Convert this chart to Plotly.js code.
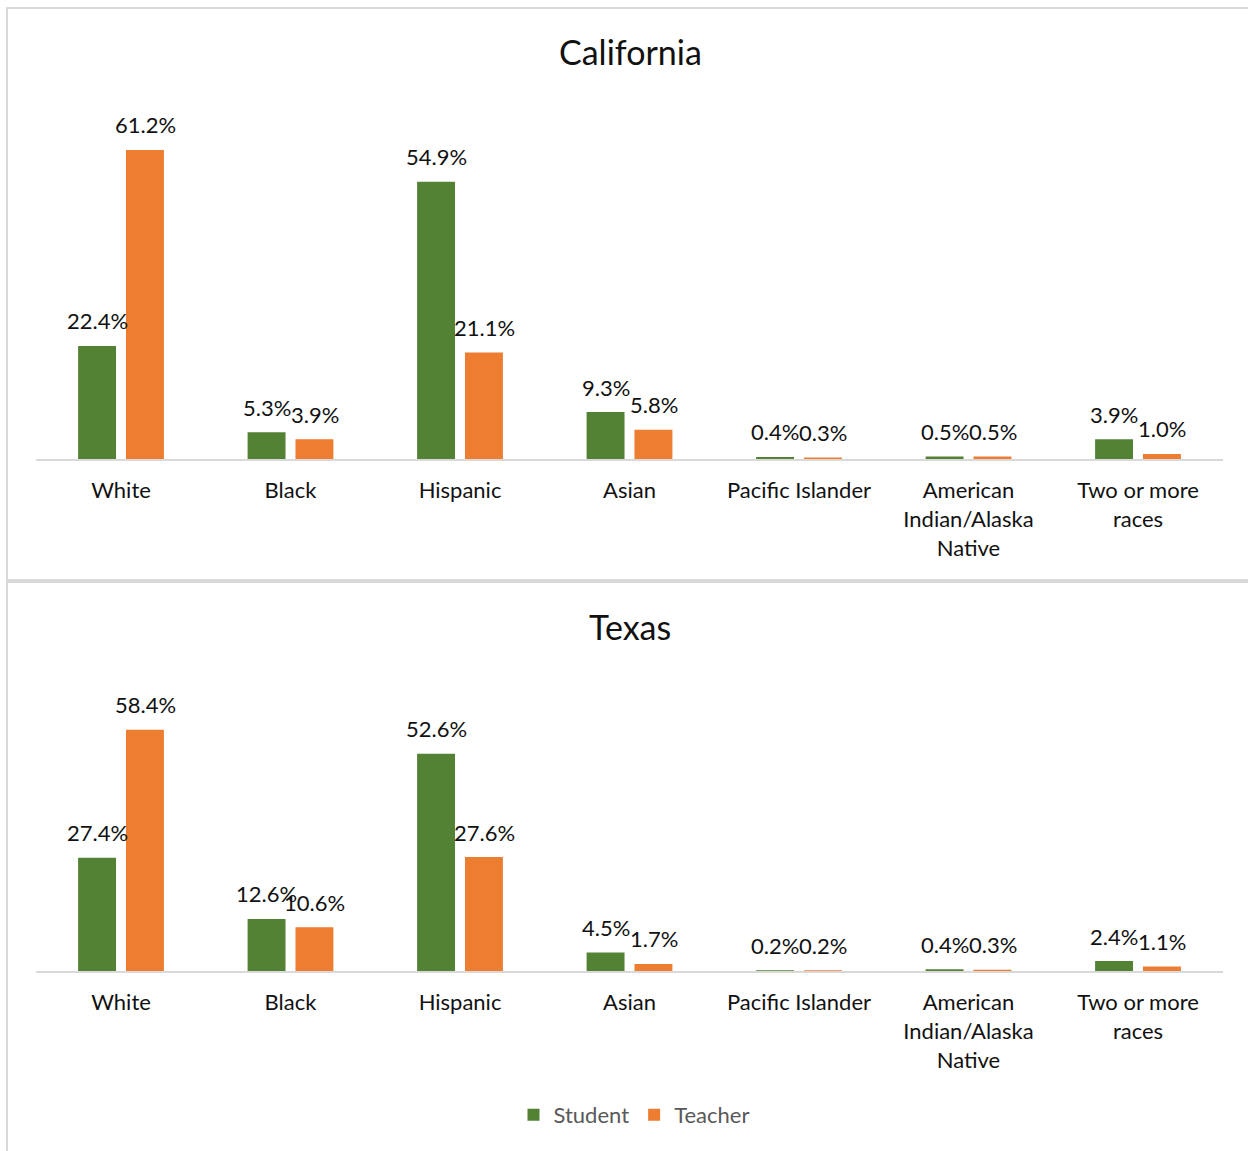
<!DOCTYPE html>
<html>
<head>
<meta charset="utf-8">
<script src="https://cdn.plot.ly/plotly-3.0.1.min.js"></script>
<style>html,body{margin:0;padding:0;background:#fff;}#chart{width:1248px;height:1151px;}</style>
</head>
<body>
<div id="chart"></div>
<script>
const categories = ["White","Black","Hispanic","Asian","Pacific Islander","American<br>Indian/Alaska<br>Native","Two or more<br>races"];
const caStudent = [22.4, 5.3, 54.9, 9.3, 0.4, 0.5, 3.9];
const caTeacher = [61.2, 3.9, 21.1, 5.8, 0.3, 0.5, 1.0];
const txStudent = [27.4, 12.6, 52.6, 4.5, 0.2, 0.4, 2.4];
const txTeacher = [58.4, 10.6, 27.6, 1.7, 0.2, 0.3, 1.1];
const seriesNames = ["Student", "Teacher"];
const panelTitles = ["California", "Texas"];

const W = 1248, H = 1151;
const green = "#548235", orange = "#ED7D31";
const FONT = "Lato, 'Open Sans', sans-serif";
const fmt = v => v.toFixed(1) + "%";
const py = p => 1 - p / H;
const px = p => p / W;

function barTrace(name, vals, color, xa, ya, show) {
  return {
    type: "bar", name: name, x: categories, y: vals,
    xaxis: xa, yaxis: ya, marker: {color: color},
    showlegend: show, hoverinfo: "none"
  };
}

const data = [
  barTrace(seriesNames[0], caStudent, green, "x", "y", true),
  barTrace(seriesNames[1], caTeacher, orange, "x", "y", true),
  barTrace(seriesNames[0], txStudent, green, "x2", "y2", false),
  barTrace(seriesNames[1], txTeacher, orange, "x2", "y2", false)
];

// data labels, placed from the data values through the axes
const labelFont = {family: FONT, size: 22, color: "#111"};
function labels(vals, xref, yref, shift) {
  return vals.map((v, i) => ({
    text: fmt(v), x: categories[i], y: v, xref: xref, yref: yref,
    xshift: shift, yshift: 25, xanchor: "center", yanchor: "middle",
    showarrow: false, font: labelFont
  }));
}

// pixel geometry
const topBase = 459, topTop = 100, topScale = 5.05;
const botBase = 971, botTop = 680, botScale = 4.13;

const xaxisCommon = {
  type: "category", showgrid: false, zeroline: false, showline: true,
  linecolor: "#d9d9d9", linewidth: 2, ticks: "", fixedrange: true,
  ticklabelstandoff: 11,
  tickfont: {family: FONT, size: 22, color: "#111"},
  domain: [px(36.25), px(1222.75)]
};
const yaxisCommon = {visible: false, showgrid: false, zeroline: false, fixedrange: true};

const layout = {
  width: W, height: H,
  margin: {l: 0, r: 0, t: 0, b: 0},
  paper_bgcolor: "#fff", plot_bgcolor: "rgba(0,0,0,0)",
  font: {family: FONT},
  barmode: "group", bargap: 0.435, bargroupgap: 0.208,
  xaxis: Object.assign({}, xaxisCommon, {anchor: "y"}),
  yaxis: Object.assign({}, yaxisCommon, {anchor: "x", domain: [py(topBase), py(topTop)], range: [0, (topBase - topTop) / topScale]}),
  xaxis2: Object.assign({}, xaxisCommon, {anchor: "y2"}),
  yaxis2: Object.assign({}, yaxisCommon, {anchor: "x2", domain: [py(botBase), py(botTop)], range: [0, (botBase - botTop) / botScale]}),
  showlegend: true,
  legend: {
    orientation: "h", x: px(634), xanchor: "center", y: py(1115), yanchor: "middle",
    font: {family: FONT, size: 22, color: "#595959"}, traceorder: "normal",
    bgcolor: "rgba(0,0,0,0)"
  },
  annotations: [
    {text: panelTitles[0], xref: "paper", yref: "paper", x: px(630), y: py(51), xanchor: "center", yanchor: "middle", showarrow: false, font: {family: FONT, size: 34, color: "#111"}},
    {text: panelTitles[1], xref: "paper", yref: "paper", x: px(630), y: py(626), xanchor: "center", yanchor: "middle", showarrow: false, font: {family: FONT, size: 34, color: "#111"}}
  ].concat(
    labels(caStudent, "x", "y", -24), labels(caTeacher, "x", "y", 24),
    labels(txStudent, "x2", "y2", -24), labels(txTeacher, "x2", "y2", 24)
  ),
  shapes: [
    {type: "rect", xref: "paper", yref: "paper", x0: px(7), x1: px(1260), y0: py(580), y1: py(8), line: {color: "#d9d9d9", width: 2}, fillcolor: "rgba(0,0,0,0)", layer: "below"},
    {type: "rect", xref: "paper", yref: "paper", x0: px(7), x1: px(1260), y0: py(1165), y1: py(582), line: {color: "#d9d9d9", width: 2}, fillcolor: "rgba(0,0,0,0)", layer: "below"}
  ]
};

Plotly.newPlot("chart", data, layout, {staticPlot: true, displayModeBar: false});
</script>
</body>
</html>
